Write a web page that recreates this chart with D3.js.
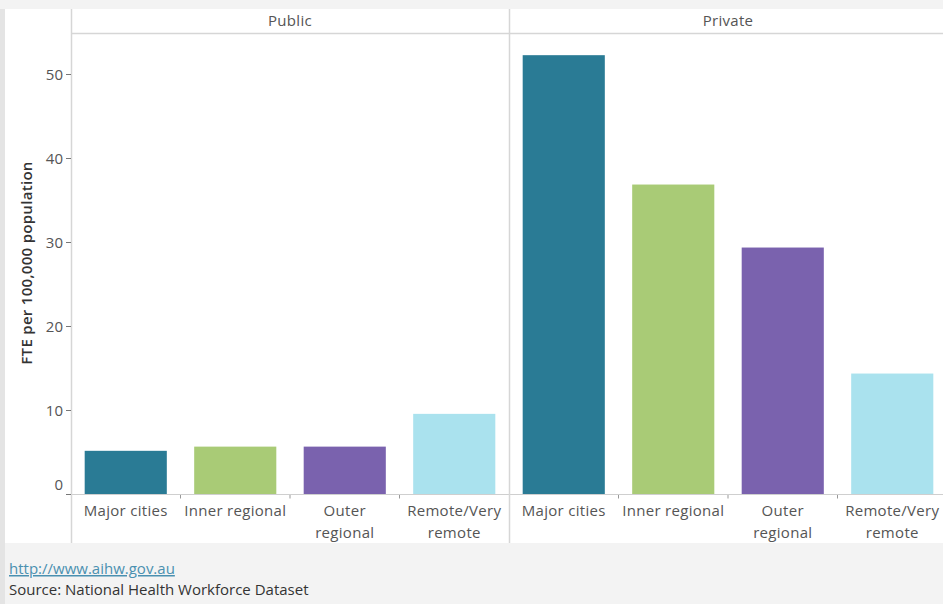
<!DOCTYPE html>
<html>
<head>
<meta charset="utf-8">
<script src="https://cdn.jsdelivr.net/npm/d3@7"></script>
<style>
  html, body { margin: 0; padding: 0; background: #f3f3f3; }
  svg { display: block; font-family: "Open Sans", "Noto Sans", sans-serif; }
</style>
</head>
<body>
<svg id="chart" width="943" height="604"></svg>
<script>
const panels = ["Public", "Private"];
const categories = ["Major cities", "Inner regional", "Outer regional", "Remote/Very remote"];
const categoryLines = [["Major cities"], ["Inner regional"], ["Outer", "regional"], ["Remote/Very", "remote"]];
const publicValues = [5.2, 5.7, 5.7, 9.6];
const privateValues = [52.3, 36.9, 29.4, 14.4];
const yTicks = [0, 10, 20, 30, 40, 50];
const colors = ["#2a7b95", "#a9cb76", "#7a62ae", "#aae2ee"];
const yTitle = "FTE per 100,000 population";
const linkText = "http://www.aihw.gov.au";
const sourceText = "Source: National Health Workforce Dataset";

(function () {
const svg = d3.select("#chart");
const W = 943, H = 604;

svg.append("rect").attr("x", 0).attr("y", 0).attr("width", W).attr("height", H).attr("fill", "#f3f3f3");
svg.append("rect").attr("x", 0).attr("y", 9).attr("width", 5).attr("height", H - 9).attr("fill", "#e4e4e4");
const areaTop = 9, areaBottom = 543, areaLeft = 5;
svg.append("rect").attr("x", areaLeft).attr("y", areaTop).attr("width", W - areaLeft).attr("height", areaBottom - areaTop).attr("fill", "#ffffff");

const plotLeft = 71, panelW = 438, headerBottom = 33;
const y = d3.scaleLinear().domain([0, 10]).range([494.5, 410.5]);

const data = [publicValues, privateValues];

panels.forEach((p, i) => {
  const x0 = plotLeft + i * panelW;
  const x = d3.scaleBand().domain(categories).range([x0, x0 + panelW]).paddingInner(0.25).paddingOuter(0.125);
  const vals = data[i];

  svg.append("text").attr("x", x0 + panelW / 2).attr("y", 26).attr("text-anchor", "middle")
    .attr("font-size", 15).attr("letter-spacing", 0.3).attr("fill", "#555").text(p);

  svg.append("g").selectAll("rect").data(categories).join("rect")
    .attr("x", d => x(d))
    .attr("y", (d, j) => y(vals[j]))
    .attr("width", x.bandwidth())
    .attr("height", (d, j) => y(0) - y(vals[j]))
    .attr("fill", (d, j) => colors[j]);

  const step = x.step();
  const bounds = d3.range(1, categories.length).map(k => x0 + k * step);
  svg.append("g").selectAll("line").data(bounds).join("line")
    .attr("x1", d => d).attr("x2", d => d)
    .attr("y1", y(0)).attr("y2", y(0) + 4)
    .attr("stroke", "#999").attr("stroke-width", 1);

  const lab = svg.append("g").selectAll("text").data(categories).join("text")
    .attr("text-anchor", "middle")
    .attr("font-size", 15).attr("letter-spacing", 0.3).attr("fill", "#555");
  lab.each(function(d, j) {
    const t = d3.select(this);
    categoryLines[j].forEach((ln, k) => {
      t.append("tspan").attr("x", x(d) + x.bandwidth() / 2).attr("y", 516 + k * 22).text(ln);
    });
  });
});

svg.append("line").attr("x1", 66).attr("x2", W).attr("y1", y(0)).attr("y2", y(0))
  .attr("stroke", "#cfcfcf").attr("stroke-width", 1);

svg.append("line").attr("x1", plotLeft).attr("x2", W).attr("y1", headerBottom + 0.5).attr("y2", headerBottom + 0.5)
  .attr("stroke", "#d6d6d6").attr("stroke-width", 1.5);

[plotLeft, plotLeft + panelW].forEach(xx => {
  svg.append("line").attr("x1", xx + 0.5).attr("x2", xx + 0.5).attr("y1", areaTop).attr("y2", areaBottom)
    .attr("stroke", "#d6d6d6").attr("stroke-width", 1.5);
});

const yAxis = svg.append("g");
yTicks.forEach(t => {
  yAxis.append("line").attr("x1", 66).attr("x2", 71).attr("y1", y(t)).attr("y2", y(t))
    .attr("stroke", "#777").attr("stroke-width", 1);
  yAxis.append("text").attr("x", 63).attr("y", t === 0 ? y(t) - 5 : y(t) + 5)
    .attr("text-anchor", "end").attr("font-size", 15).attr("fill", "#555").text(t);
});

svg.append("text").attr("transform", "translate(32,263) rotate(-90)")
  .attr("text-anchor", "middle").attr("font-size", 15).attr("letter-spacing", 0.3).attr("font-weight", 600).attr("fill", "#333").text(yTitle);

svg.append("text").attr("x", 9).attr("y", 574).attr("font-size", 15).attr("fill", "#4a90b0")
  .attr("text-decoration", "underline").text(linkText);
svg.append("text").attr("x", 9).attr("y", 595).attr("font-size", 15).attr("fill", "#333").text(sourceText);
})();
</script>
</body>
</html>
